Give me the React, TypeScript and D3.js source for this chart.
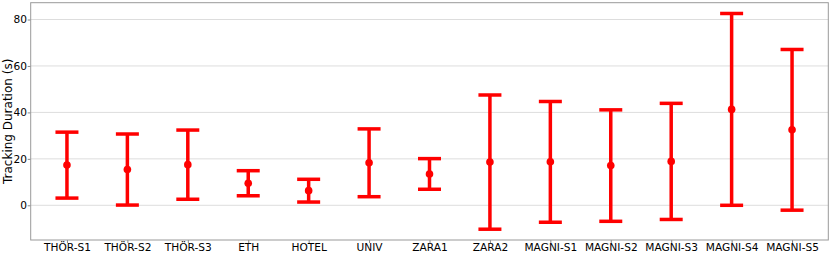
import * as d3 from "d3";
import { useEffect, useRef } from "react";

const categories = [
  "THÖR-S1", "THÖR-S2", "THÖR-S3", "ETH", "HOTEL", "UNIV", "ZARA1",
  "ZARA2", "MAGNI-S1", "MAGNI-S2", "MAGNI-S3", "MAGNI-S4", "MAGNI-S5",
];
const means = [17.3, 15.4, 17.5, 9.5, 6.3, 18.3, 13.5, 18.6, 18.7, 17.1, 18.9, 41.3, 32.5];
const stds = [14.2, 15.3, 14.9, 5.4, 4.9, 14.6, 6.6, 28.9, 26.0, 24.0, 25.0, 41.3, 34.6];
const yTicks = [0, 20, 40, 60, 80];

const W = 831;
const H = 255;
const margin = { top: 2.7, right: 2.7, bottom: 15, left: 30.7 };

const App = () => {
  const ref = useRef<SVGSVGElement | null>(null);

  useEffect(() => {
    const svg = d3.select(ref.current);
    svg.selectAll("*").remove();

    const x0 = margin.left;
    const x1 = W - margin.right;
    const y0 = H - margin.bottom;
    const y1 = margin.top;

    // matplotlib-like 5% padding
    const lo = d3.min(means.map((m, i) => m - stds[i])) as number;
    const hi = d3.max(means.map((m, i) => m + stds[i])) as number;
    const pad = (hi - lo) * 0.05;
    const n = categories.length;

    const x = d3.scaleLinear().domain([-0.6, n - 1 + 0.6]).range([x0, x1]);
    const y = d3.scaleLinear().domain([lo - pad, hi + pad]).range([y0, y1]);

    const font = "DejaVu Sans, sans-serif";

    // grid
    svg.append("g")
      .selectAll("line")
      .data(yTicks)
      .enter()
      .append("line")
      .attr("x1", x0)
      .attr("x2", x1)
      .attr("y1", d => y(d))
      .attr("y2", d => y(d))
      .attr("stroke", "#dddddd")
      .attr("stroke-width", 1);

    // y axis ticks + labels
    const ya = svg.append("g").attr("transform", `translate(${x0},0)`);
    ya.call(d3.axisLeft(y).tickValues(yTicks).tickSize(3).tickPadding(0.6).tickFormat(d3.format("d")));
    ya.select(".domain").remove();
    ya.selectAll("line").attr("stroke", "#888");
    ya.selectAll("text").attr("font-family", font).attr("font-size", 10.6).attr("fill", "#000");

    // x axis ticks + labels
    const xa = svg.append("g").attr("transform", `translate(0,${y0})`);
    xa.call(
      d3.axisBottom(x)
        .tickValues(d3.range(n))
        .tickSize(3)
        .tickPadding(0.5)
        .tickFormat(i => categories[i as number])
    );
    xa.select(".domain").remove();
    xa.selectAll("line").attr("stroke", "#888");
    xa.selectAll("text").attr("font-family", font).attr("font-size", 10.6).attr("fill", "#000");

    // error bars
    const g = svg.append("g");
    const cap = 11.5;
    const red = "#ff0000";
    means.forEach((m, i) => {
      const cx = x(i);
      const top = y(m + stds[i]);
      const bot = y(m - stds[i]);
      g.append("line")
        .attr("x1", cx).attr("x2", cx)
        .attr("y1", top).attr("y2", bot)
        .attr("stroke", red).attr("stroke-width", 3.5);
      [top, bot].forEach(yy => {
        g.append("line")
          .attr("x1", cx - cap).attr("x2", cx + cap)
          .attr("y1", yy).attr("y2", yy)
          .attr("stroke", red).attr("stroke-width", 3.5);
      });
      g.append("circle")
        .attr("cx", cx)
        .attr("cy", y(m))
        .attr("r", 3.8)
        .attr("fill", red);
    });

    // frame
    svg.append("rect")
      .attr("x", x0)
      .attr("y", y1)
      .attr("width", x1 - x0)
      .attr("height", y0 - y1)
      .attr("fill", "none")
      .attr("stroke", "#999")
      .attr("stroke-width", 1);

    // y label
    svg.append("text")
      .attr("transform", `translate(11.5,${(y0 + y1) / 2}) rotate(-90)`)
      .attr("text-anchor", "middle")
      .attr("font-family", font)
      .attr("font-size", 12)
      .attr("fill", "#000")
      .text("Tracking Duration (s)");
  }, []);

  return (
    <svg
      ref={ref}
      width={W}
      height={H}
      style={{ position: "absolute", left: 0, top: 0, background: "#fff" }}
    />
  );
};

export default App;
